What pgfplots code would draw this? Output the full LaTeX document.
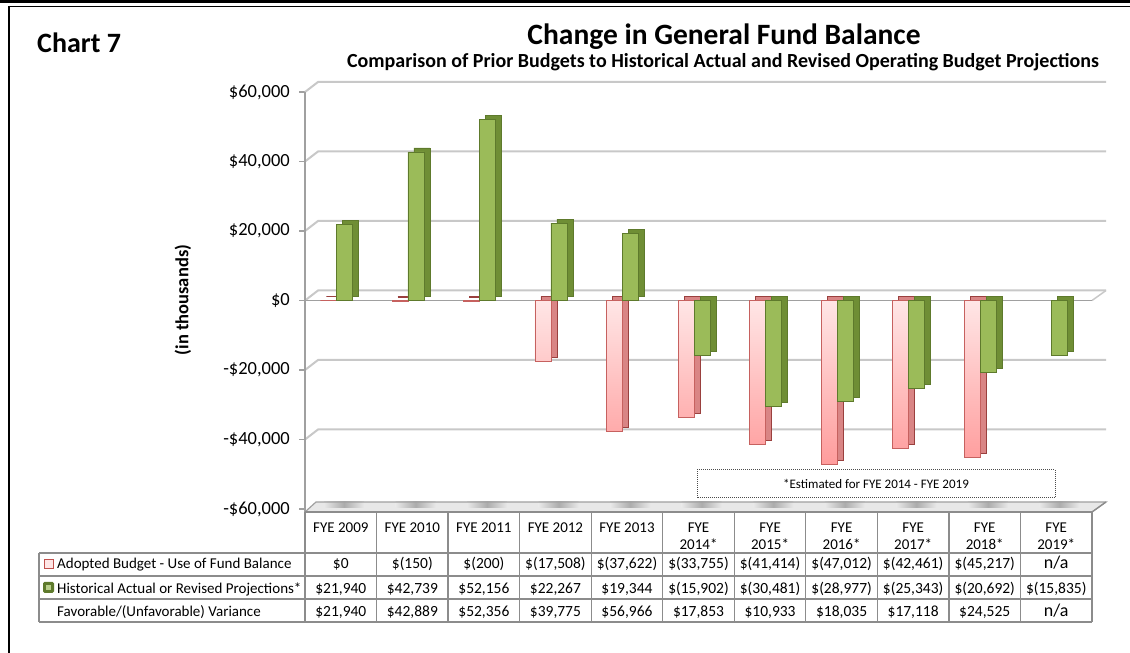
\documentclass[border=0pt]{standalone}
\usepackage{pgfplots}
\pgfplotsset{compat=1.18}
\usepackage{pgfplotstable}
\usepackage{fontspec}
\setmainfont{Carlito}

\definecolor{pinkA}{HTML}{FFE6E6}
\definecolor{pinkB}{HTML}{FF9C9C}
\definecolor{pinkD}{HTML}{C0504D}
\definecolor{pinkS}{HTML}{D98585}
\definecolor{grnF}{HTML}{9BBB59}
\definecolor{grnS}{HTML}{6F8E35}
\definecolor{grnD}{HTML}{5E7A2C}
\definecolor{gridc}{HTML}{C8C8C8}
\definecolor{axc}{HTML}{A0A0A0}
\definecolor{tabc}{HTML}{8C8C8C}

\pgfplotstableread{
i adopted actual
0 0 21940
1 -150 42739
2 -200 52156
3 -17508 22267
4 -37622 19344
5 -33755 -15902
6 -41414 -30481
7 -47012 -28977
8 -42461 -25343
9 -45217 -20692
10 nan -15835
}\fund

\newcommand{\na}{{\fontsize{18}{20}\selectfont n/a}}

\begin{document}
\begin{tikzpicture}
\begin{scope}[x=1pt,y=1pt]
\path[use as bounding box] (0,0) rectangle (1130,653);
% frame
\draw[line width=2.8pt] (0,651.6) -- (1130,651.6);
\draw[line width=1.5pt] (9,646.5) -- (1130,646.5);
\draw[line width=2pt] (9,647.2) -- (9,0);
% titles
\node[anchor=base west, inner sep=0pt, font=\bfseries\fontsize{28}{32}\selectfont] at (37,600) {Chart 7};
\node[anchor=base, inner sep=0pt, font=\bfseries\fontsize{29.5}{33}\selectfont] at (724,608) {Change in General Fund Balance};
\node[anchor=base, inner sep=0pt, font=\bfseries\fontsize{20}{23}\selectfont] at (723,585) {Comparison of Prior Budgets to Historical Actual and Revised Operating Budget Projections};
\node[rotate=90, inner sep=0pt, font=\bfseries\fontsize{18.5}{21}\selectfont] at (183,353) {(in thousands)};
% floor
\fill[gray!18] (305,141) -- (1092,141) -- (1106,151) -- (316,151) -- cycle;
\foreach \k in {0,...,10}
  \shade[left color=gray!18, right color=gray!18, middle color=gray!65]
    ({316+71.545*\k+8},145) rectangle ({316+71.545*\k+48},151);
\draw[gridc!80!black, line width=1.2pt] (305,141) -- (316,151) -- (1106,151) -- (1092,141);
\end{scope}

\begin{axis}[
  at={(305pt,144pt)}, anchor=south west,
  scale only axis, width=787pt, height=417pt,
  xmin=-0.5, xmax=10.5, ymin=-60000, ymax=60000,
  clip=false,
  axis line style={draw=none},
  xtick=\empty,
  ytick={-60000,-40000,-20000,0,20000,40000,60000},
  scaled y ticks=false,
  yticklabels={{-\$60,000},{-\$40,000},{-\$20,000},{\$0},{\$20,000},{\$40,000},{\$60,000}},
  ytick pos=left, tick align=outside, major tick length=6pt,
  ytick style={draw=axc, line width=1.2pt},
  yticklabel style={anchor=east, inner sep=0pt, xshift=-9pt, font=\fontsize{18.5}{20}\selectfont},
  ybar, bar width=16pt,
]
% back wall grid lines
\pgfplotsinvokeforeach{-40000,-20000,0,20000,40000,60000}{
  \draw[gridc, line width=2pt] (axis cs:-0.5,#1) -- ++(13pt,10pt) -- ([xshift=14pt,yshift=10pt]axis cs:10.5,#1);
}
\draw[gridc, line width=1.5pt] (axis cs:10.5,0) -- ++(14pt,10pt);
\draw[axc, line width=1.5pt] (axis cs:-0.5,0) -- (axis cs:10.5,0);

% adopted budget: side/top, then front
\addplot[bar shift=-12.5pt, xshift=6pt, yshift=4pt, fill=pinkS, draw=pinkD!80!black, line width=0.6pt]
  table[x=i, y=adopted] \fund;
\addplot[bar shift=-12.5pt, top color=pinkA, bottom color=pinkB, draw=pinkD!90, line width=0.6pt]
  table[x=i, y=adopted] \fund;
% historical actual: side/top, then front
\addplot[bar shift=3.5pt, xshift=6pt, yshift=4pt, fill=grnS, draw=grnD, line width=0.6pt]
  table[x=i, y=actual] \fund;
\addplot[bar shift=3.5pt, fill=grnF, draw=grnD, line width=0.6pt]
  table[x=i, y=actual] \fund;
\end{axis}

\begin{scope}[x=1pt,y=1pt]
% y axis line continuing into the table
\draw[axc, line width=1.5pt] (305,561) -- (305,141);
% note box
\draw[densely dotted, line width=1pt, black!70] (697,155) rectangle (1055,183);
\node[inner sep=0pt, font=\fontsize{13}{15}\selectfont] at (876,169) {*Estimated for FYE 2014 - FYE 2019};
% data table
\draw[tabc, line width=1.3pt] (305,141) -- (1092,141);
\foreach \yy in {100,77,54,31} \draw[tabc, line width=1.3pt] (39,\yy) -- (1092,\yy);
\draw[tabc, line width=1.3pt] (39,100) -- (39,31);
\foreach \k in {0,...,11} \draw[tabc, line width=1.3pt] ({305+71.545*\k},141) -- ({305+71.545*\k},31);
\draw[tabc, line width=1.3pt] (1092,141) -- (1106,151);
% headers
\foreach \t [count=\i from 0] in {2009,2010,2011,2012,2013}
  \node[anchor=base, inner sep=0pt, font=\fontsize{15}{17}\selectfont] at ({340.8+71.545*\i},120) {FYE \t};
\foreach \t [count=\i from 5] in {2014,2015,2016,2017,2018,2019}{
  \node[anchor=base, inner sep=0pt, font=\fontsize{15}{17}\selectfont] at ({340.8+71.545*\i},120) {FYE};
  \node[anchor=base, inner sep=0pt, font=\fontsize{15}{17}\selectfont] at ({340.8+71.545*\i},103) {\t*};
}
% legend column
\fill[pinkA] (44,84) rectangle (53,93);
\draw[pinkD, line width=1pt] (44,84) rectangle (53,93);
\fill[grnD, rounded corners=1.5pt] (43,60) rectangle (54,71);
\fill[grnF!70!white] (46,63) rectangle (51,68);
\node[anchor=base west, inner sep=0pt, font=\fontsize{15}{17}\selectfont] at (57,84) {Adopted Budget - Use of Fund Balance};
\node[anchor=base west, inner sep=0pt, font=\fontsize{15}{17}\selectfont] at (57,59) {Historical Actual or Revised Projections*};
\node[anchor=base west, inner sep=0pt, font=\fontsize{15}{17}\selectfont] at (57,36.5) {Favorable/(Unfavorable) Variance};
% values
\foreach \t [count=\i from 0] in {{\$0},{\$(150)},{\$(200)},{\$(17,508)},{\$(37,622)},{\$(33,755)},{\$(41,414)},{\$(47,012)},{\$(42,461)},{\$(45,217)},{\na}}
  \node[anchor=base, inner sep=0pt, font=\fontsize{15.5}{17}\selectfont] at ({340.8+71.545*\i},84) {\t};
\foreach \t [count=\i from 0] in {{\$21,940},{\$42,739},{\$52,156},{\$22,267},{\$19,344},{\$(15,902)},{\$(30,481)},{\$(28,977)},{\$(25,343)},{\$(20,692)},{\$(15,835)}}
  \node[anchor=base, inner sep=0pt, font=\fontsize{15.5}{17}\selectfont] at ({340.8+71.545*\i},59) {\t};
\foreach \t [count=\i from 0] in {{\$21,940},{\$42,889},{\$52,356},{\$39,775},{\$56,966},{\$17,853},{\$10,933},{\$18,035},{\$17,118},{\$24,525},{\na}}
  \node[anchor=base, inner sep=0pt, font=\fontsize{15.5}{17}\selectfont] at ({340.8+71.545*\i},36.5) {\t};
\end{scope}
\end{tikzpicture}
\end{document}
